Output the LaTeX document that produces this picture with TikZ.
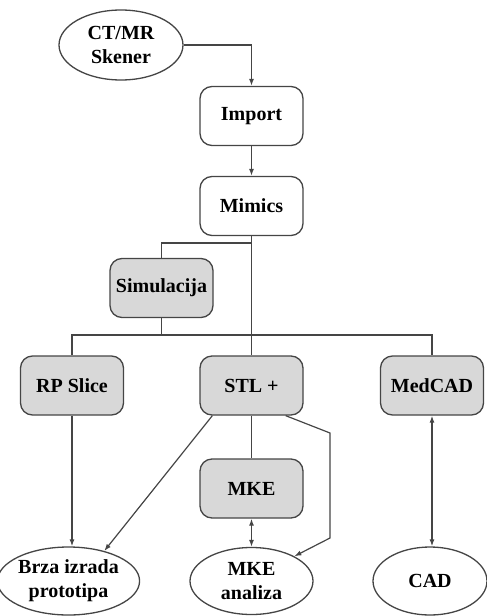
\documentclass[tikz,border=0pt]{standalone}
\usepackage{fontspec}
\setmainfont{Liberation Serif}
\usetikzlibrary{shapes.geometric,arrows.meta,calc}
\definecolor{edge}{HTML}{454545}
\definecolor{boxfill}{HTML}{D8D8D8}
\tikzset{
  x=1pt,y=1pt,
  lbl/.style={font=\fontsize{20}{24}\selectfont\bfseries, align=center, text=black},
  whitebox/.style={lbl, draw=edge, line width=1.3pt, fill=white, rounded corners=12pt, minimum width=103pt, minimum height=59pt, inner sep=0pt},
  graybox/.style={whitebox, fill=boxfill},
  oval/.style={lbl, ellipse, draw=edge, line width=1.3pt, fill=white, inner sep=0pt},
  conn/.style={draw=edge, line width=1.2pt},
  arr/.style={conn, -{Latex[length=7pt,width=5pt]}},
  darr/.style={conn, {Latex[length=7pt,width=5pt]}-{Latex[length=7pt,width=5pt]}}
}
\begin{document}
\begin{tikzpicture}
\useasboundingbox (0,0) rectangle (487,-616);
\node[oval, minimum width=124pt, minimum height=70pt] (ct) at (121,-45) {CT/MR\\Skener};
\node[whitebox] (imp) at (251.5,-116) {Import};
\node[whitebox] (mim) at (251.5,-206) {Mimics};
\node[graybox] (sim) at (161.5,-288) {Simulacija};
\node[graybox] (rp) at (72,-385.5) {RP Slice};
\node[graybox] (stl) at (251.5,-385.5) {STL +};
\node[graybox] (med) at (432,-385.5) {MedCAD};
\node[graybox] (mke) at (251.5,-488.5) {MKE};
\node[oval, minimum width=131pt, minimum height=68pt] (brza) at (68.5,-581) {Brza izrada\\prototipa};
\node[oval, minimum width=123pt, minimum height=67pt] (mkea) at (251.5,-581) {MKE\\analiza};
\node[oval, minimum width=114pt, minimum height=68pt] (cad) at (430,-581) {CAD};

\coordinate (ht) at (251.5,-243);
\coordinate (hb) at (251.5,-335);
\coordinate (bend1) at (330,-433);
\coordinate (bend2) at (330,-538);

\draw[arr] (ct.east) -| (imp.north);
\draw[arr] (imp.south) -- (mim.north);
\draw[conn] (mim.south) -- (stl.north);
\draw[conn] (ht) -| (sim.north);
\draw[conn] (sim.south) -- (sim.south |- hb);
\draw[conn] (rp.north) |- (hb) -| (med.north);
\draw[arr] (rp.south) -- (rp.south |- brza.north);
\draw[arr] ($(stl.south west)+(13,0)$) -- (brza.40);
\draw[conn] (stl.south) -- (mke.north);
\draw[arr] ($(stl.south east)+(-18,0)$) -- (bend1) -- (bend2) -- (mkea.30);
\draw[darr] (mke.south) -- (mkea.north);
\draw[darr] (med.south) -- (med.south |- cad.north);
\end{tikzpicture}
\end{document}
